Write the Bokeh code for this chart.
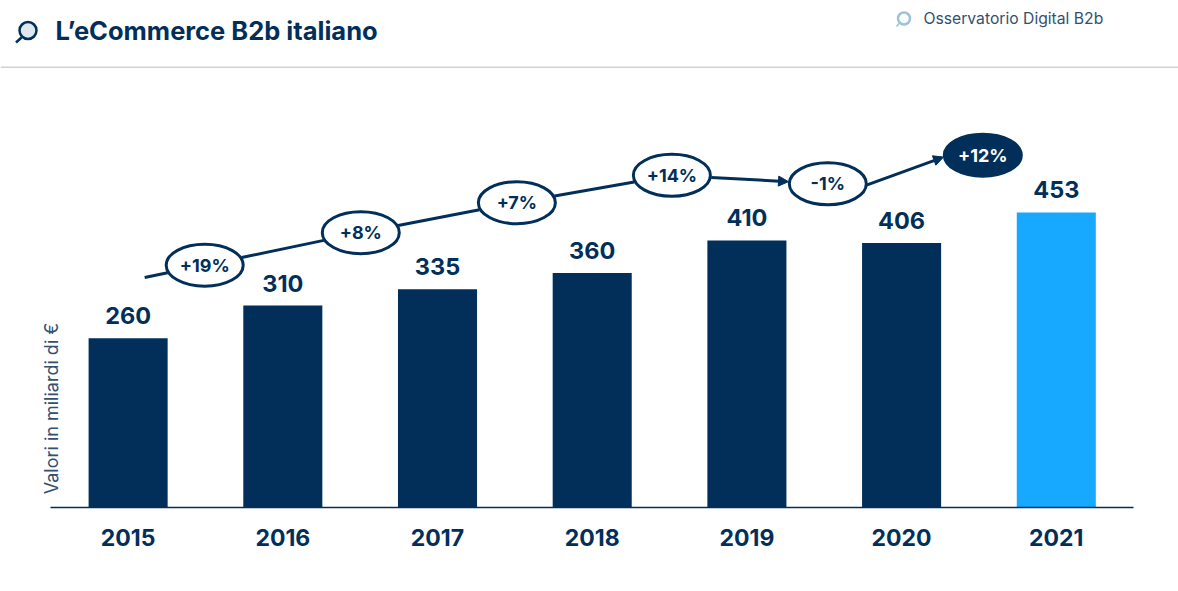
import math
from bokeh.plotting import figure
from bokeh.layouts import column
from bokeh.models import Range1d, FixedTicker, LinearAxis, Arrow, NormalHead, Label
from bokeh.core.properties import value
from bokeh.embed import file_html
from bokeh.resources import INLINE

years = ["2015", "2016", "2017", "2018", "2019", "2020", "2021"]
ecommerce_b2b = [260, 310, 335, 360, 410, 406, 453]
growth_labels = ["+19%", "+8%", "+7%", "+14%", "-1%", "+12%"]
trend_x = [0.495, 1.504, 2.513, 3.515, 4.523, 5.525]
trend_level = [372, 422, 468, 510, 497, 541]
trend_start_level = 353
title_text = "L\u2019eCommerce B2b italiano"
source_text = "Osservatorio Digital B2b"
y_title = "Valori in miliardi di \u20ac"

NAVY = "#012f5a"
BLUE = "#16a9ff"
FONT = "Inter"

# ---- header ----
header = figure(width=1178, height=68, x_range=Range1d(0, 1178), y_range=Range1d(68, 0),
                toolbar_location=None, output_backend="svg", min_border=0,
                outline_line_color=None, x_axis_location=None, y_axis_location=None)
header.grid.visible = False
header.segment([0], [67], [1178], [67], line_color="#d2d2d2", line_width=2)
header.text([55], [30], text=[title_text], text_font=value(FONT), text_font_style="bold",
            text_font_size="25.5px", text_color=NAVY, text_baseline="middle")
header.text([923], [18], text=[source_text], text_font=value(FONT),
            text_font_size="15.7px", text_color="#33506e", text_baseline="middle")
# icons
header.circle([27.5], [30], radius=8.5, fill_color="#dfe8ee", line_color=NAVY, line_width=2.5)
header.segment([21], [37], [15.5], [42], line_color=NAVY, line_width=2.5)
header.circle([903.5], [18], radius=6, fill_color="#ffffff", line_color="#9cc4d6", line_width=2.5)
header.segment([898.5], [23], [896], [26], line_color="#9cc4d6", line_width=1.5)

# ---- chart ----
PX_X = 154.7
PX_Y = 0.651
p = figure(width=1178, height=523, x_range=Range1d(-0.825, 6.79), y_range=Range1d(0, 674),
           toolbar_location=None, output_backend="svg",
           min_border_left=0, min_border_right=0, min_border_top=0, min_border_bottom=84,
           outline_line_color=None, x_axis_location=None, y_axis_location=None)
p.grid.visible = False

xs = list(range(len(years)))
colors = [NAVY] * 6 + [BLUE]
p.vbar(x=xs, top=ecommerce_b2b, width=0.511, bottom=0, fill_color=colors, line_color=None)
p.text(xs, ecommerce_b2b, text=[str(v) for v in ecommerce_b2b], x_offset=0, y_offset=-14,
       text_font=value(FONT), text_font_style="bold", text_font_size="23.5px",
       text_color=NAVY, text_align="center", text_baseline="bottom")

axis = LinearAxis(ticker=FixedTicker(ticks=xs),
                  major_label_overrides={i: y for i, y in enumerate(years)},
                  bounds=(-0.501, 6.5),
                  axis_line_color=NAVY, axis_line_width=1.5,
                  major_tick_line_color=None, minor_tick_line_color=None,
                  major_label_standoff=15, major_label_text_color=NAVY,
                  major_label_text_font=FONT, major_label_text_font_style="bold",
                  major_label_text_font_size="23px")
p.add_layout(axis, "below")

# growth trend
RX, RY = 39.5, 22


def edge(x0, y0, x1, y1):
    """Point on the ellipse centred at (x1, y1), on the way from (x0, y0)."""
    dx, dy = (x1 - x0) * PX_X, (y1 - y0) * PX_Y
    t = 1 / math.hypot(dx / RX, dy / RY)
    return x1 - (x1 - x0) * t, y1 - (y1 - y0) * t


start = (0.107, trend_start_level)
e = edge(start[0], start[1], trend_x[0], trend_level[0])
p.line([start[0], e[0]], [start[1], e[1]], line_color=NAVY, line_width=3)
for i in range(5):
    a = edge(trend_x[i + 1], trend_level[i + 1], trend_x[i], trend_level[i])
    b = edge(trend_x[i], trend_level[i], trend_x[i + 1], trend_level[i + 1])
    if i < 3:
        p.line([a[0], b[0]], [a[1], b[1]], line_color=NAVY, line_width=3)
    else:
        if i == 4:
            # the last arrow leaves the lower right of its bubble
            a = (trend_x[4] + 0.25, trend_level[4] - 2)
            b = (trend_x[5] - 0.254, trend_level[5] - 3)
        p.add_layout(Arrow(end=NormalHead(size=10, fill_color=NAVY, line_color=NAVY),
                           x_start=a[0], y_start=a[1], x_end=b[0], y_end=b[1],
                           line_color=NAVY, line_width=3))

fills = ["#ffffff"] * 5 + [NAVY]
p.ellipse(trend_x, trend_level, width=RX * 2 - 2, height=RY * 2 - 2, width_units="screen",
          height_units="screen", fill_color=fills, line_color=NAVY, line_width=3)
p.text(trend_x, trend_level, text=growth_labels, text_font=value(FONT), text_font_style="bold",
       text_font_size="18px", text_color=[NAVY] * 5 + ["#ffffff"],
       text_align="center", text_baseline="middle")

p.add_layout(Label(x=-0.495, y=152, text=y_title, angle=90, angle_units="deg",
                   text_font=FONT, text_font_size="18px", text_color="#33506e",
                   text_align="center", text_baseline="middle"))

page = column(header, p, spacing=0)
open("out.html", "w").write(file_html(page, INLINE))
